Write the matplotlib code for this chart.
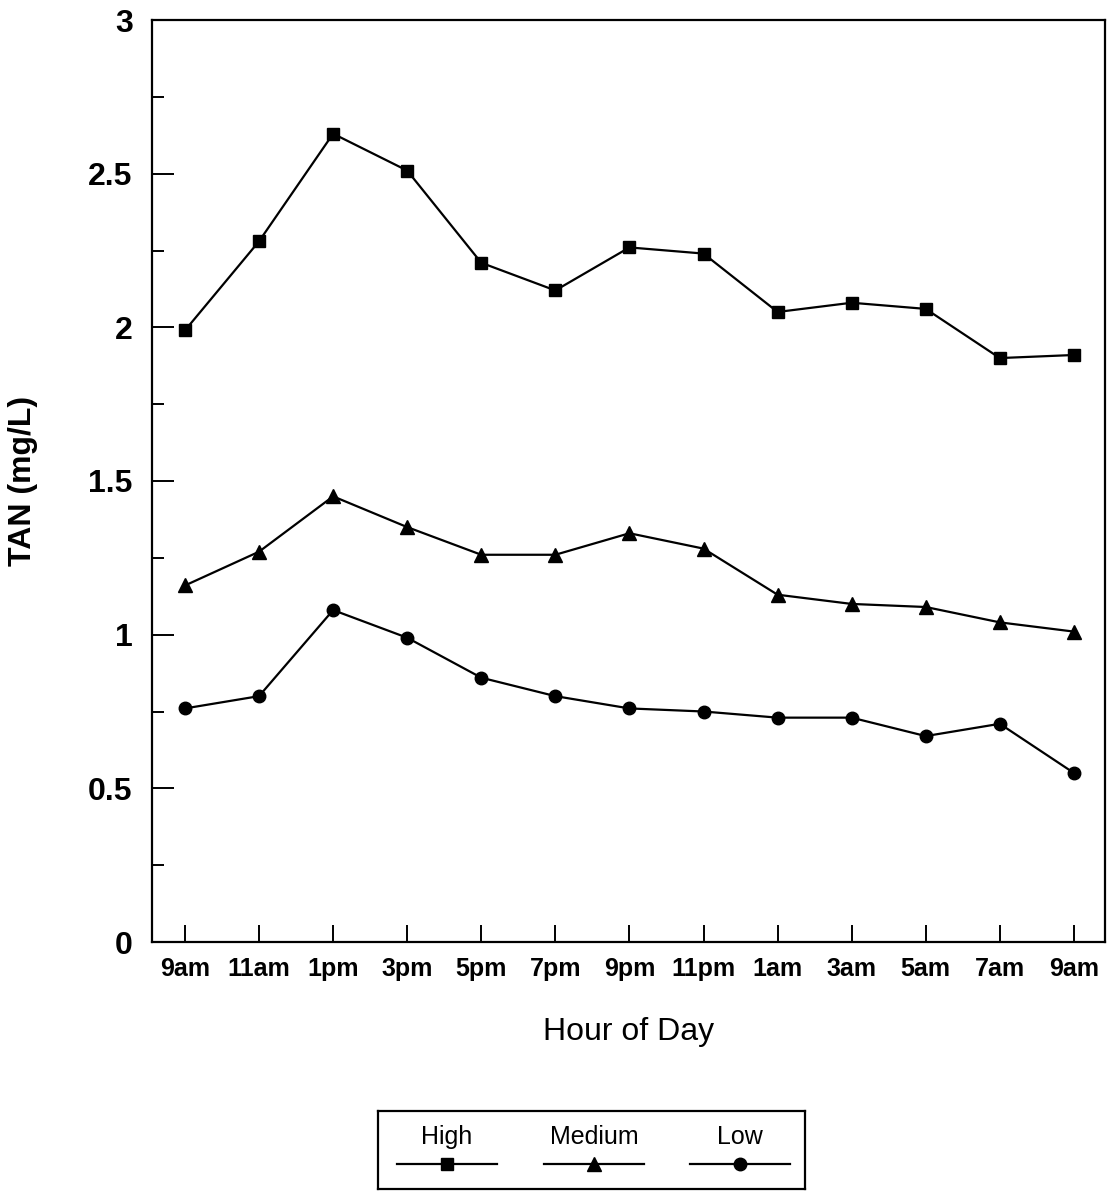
import matplotlib.pyplot as plt
import numpy as np

hours = ['9am', '11am', '1pm', '3pm', '5pm', '7pm', '9pm', '11pm',
         '1am', '3am', '5am', '7am', '9am']

high = [1.99, 2.28, 2.63, 2.51, 2.21, 2.12, 2.26, 2.24, 2.05, 2.08, 2.06, 1.90, 1.91]
medium = [1.16, 1.27, 1.45, 1.35, 1.26, 1.26, 1.33, 1.28, 1.13, 1.10, 1.09, 1.04, 1.01]
low = [0.76, 0.80, 1.08, 0.99, 0.86, 0.80, 0.76, 0.75, 0.73, 0.73, 0.67, 0.71, 0.55]

series = [('High', high, 's', 9), ('Medium', medium, '^', 10), ('Low', low, 'o', 9)]

fnt = 'Liberation Sans'
lw_p = 1.6

fig = plt.figure(figsize=(11.13, 11.91), dpi=100)
ax = fig.add_axes([152/1113, 1 - 942/1191, (1105 - 152)/1113, (942 - 20)/1191])

x = np.arange(len(hours))
for name, vals, mk, ms in series:
    ax.plot(x, vals, color='k', lw=lw_p, marker=mk, markersize=ms,
            markerfacecolor='k', markeredgecolor='k', clip_on=False)

ax.set_xlim(-0.445, 12.42)
ax.set_ylim(0, 3)
ax.set_xticks(x)
ax.set_xticklabels(hours, fontsize=18, fontweight='bold', family=fnt)
ax.set_yticks(np.arange(0, 3.01, 0.5))
ax.set_yticklabels(['0', '0.5', '1', '1.5', '2', '2.5', '3'],
                   fontsize=23, fontweight='bold', family=fnt)
ax.set_yticks(np.arange(0.25, 3, 0.5), minor=True)

ax.tick_params(axis='y', which='major', direction='in', length=16, width=1.4, pad=14)
ax.tick_params(axis='y', which='minor', direction='in', length=8.5, width=1.4)
ax.tick_params(axis='x', which='major', direction='in', length=12, width=1.4, pad=11)
for s in ax.spines.values():
    s.set_linewidth(1.6)

ax.set_xlabel('Hour of Day', fontsize=23, family=fnt, labelpad=26)
ax.set_ylabel('TAN (mg/L)', fontsize=23, fontweight='bold', family=fnt, labelpad=36)

# legend box with labels above the line samples
lg = fig.add_axes([378/1113, 1 - 1189/1191, (805 - 378)/1113, (1189 - 1111)/1191])
lg.set_xlim(378, 805)
lg.set_ylim(1189, 1111)
lg.set_xticks([])
lg.set_yticks([])
for s in lg.spines.values():
    s.set_linewidth(1.6)
for (name, vals, mk, ms), cx in zip(series, [447, 594, 740]):
    lg.plot([cx - 50, cx + 50], [1164, 1164], color='k', lw=lw_p)
    lg.plot([cx], [1164], marker=mk, markersize=ms, color='k')
    lg.text(cx, 1137, name, ha='center', va='center', fontsize=18, family=fnt)

plt.savefig('out.png', dpi=100)
plt.close()
